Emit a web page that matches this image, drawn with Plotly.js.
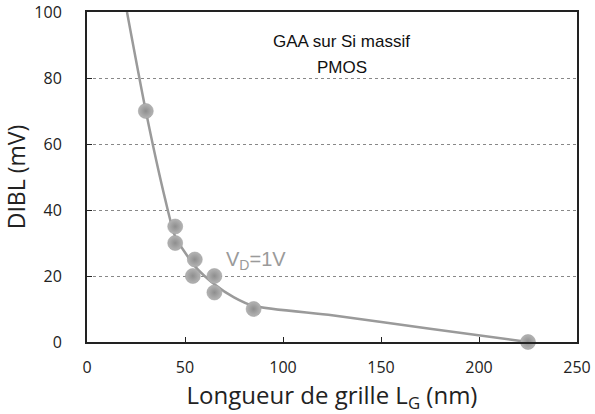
<!DOCTYPE html>
<html><head><meta charset="utf-8">
<script src="https://cdn.plot.ly/plotly-3.0.1.min.js"></script>
<style>html,body{margin:0;padding:0;background:#fff}#c{width:595px;height:414px}</style>
</head><body><div id="c"></div>
<script>
// Measured points (gate length nm, DIBL mV)
const lgPoints = [30, 45, 45, 55, 54, 65, 65, 85, 225];
const diblPoints = [70, 35, 30, 25, 20, 20, 15, 10, 0];
// Fit curve
const fitX = [20.4, 30, 40, 45, 55, 65, 75, 85, 125, 175, 225];
const fitY = [100, 70, 43, 32, 23, 17.5, 13.5, 10.9, 8.1, 4.0, 0];
const xTicks = [0, 50, 100, 150, 200, 250];
const yTicks = [0, 20, 40, 60, 80, 100];
const notes = [
  {x: 130, y: 91, text: "GAA sur Si massif"},
  {x: 130, y: 83.3, text: "PMOS"}
];
const vdLabel = {x: 86, y: 24.8, text: "V<sub>D</sub>=1V"};

const traces = [
  {x: fitX, y: fitY, mode: "lines", line: {color: "#9a9a9a", width: 2.5, shape: "spline", smoothing: 0.6},
   hoverinfo: "skip", showlegend: false},
  {x: lgPoints, y: diblPoints, mode: "markers",
   marker: {size: 15, color: "#b4b4b4", line: {color: "#999", width: 0.5},
            gradient: {type: "radial", color: "#8e8e8e"}},
   showlegend: false, cliponaxis: false}
];
const annotations = notes.map(n => ({x: n.x, y: n.y, xref: "x", yref: "y", text: n.text, showarrow: false,
  font: {family: "Liberation Sans, Arial, sans-serif", size: 17, color: "#111"}}));
annotations.push({x: vdLabel.x, y: vdLabel.y, xref: "x", yref: "y", text: vdLabel.text, showarrow: false,
  font: {family: "Liberation Sans, Arial, sans-serif", size: 20, color: "#9a9a9a"}});

const layout = {
  width: 595, height: 414,
  margin: {l: 87, r: 18, t: 12, b: 72},
  paper_bgcolor: "#fff", plot_bgcolor: "#fff",
  xaxis: {range: [0, 250], tickvals: xTicks, ticktext: xTicks.map(String), showgrid: false, zeroline: false,
    showline: true, linecolor: "#222", linewidth: 2, mirror: true, ticks: "inside", ticklen: 5, tickcolor: "#222",
    tickfont: {family: "Open Sans, sans-serif", size: 16, color: "#222"}, ticklabelstandoff: 10,
    title: {text: "Longueur de grille L<sub>G</sub> (nm)", font: {family: "Open Sans, sans-serif", size: 24, color: "#222"}, standoff: 6}},
  yaxis: {range: [0, 100], tickvals: yTicks, ticktext: yTicks.map(String), showgrid: true, gridcolor: "#888",
    griddash: "3px,3px", gridwidth: 1, zeroline: false,
    showline: true, linecolor: "#222", linewidth: 2, mirror: true, ticks: "inside", ticklen: 5, tickcolor: "#222",
    tickfont: {family: "Open Sans, sans-serif", size: 16, color: "#222"}, ticklabelstandoff: 20,
    title: {text: "DIBL (mV)", font: {family: "Open Sans, sans-serif", size: 23, color: "#222"}, standoff: 6}},
  annotations: annotations
};
Plotly.newPlot("c", traces, layout, {staticPlot: true, displayModeBar: false});
</script></body></html>
